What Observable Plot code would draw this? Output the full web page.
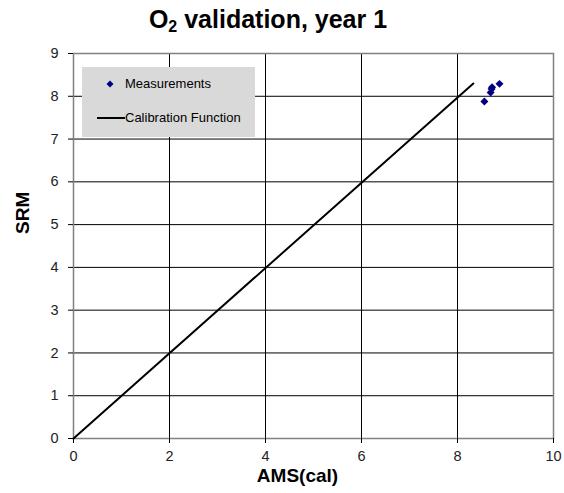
<!DOCTYPE html>
<html>
<head>
<meta charset="utf-8">
<script src="https://cdn.jsdelivr.net/npm/d3@7"></script>
<script src="https://cdn.jsdelivr.net/npm/@observablehq/plot@0.6"></script>
<style>
  body { margin: 0; background: #fff; font-family: Arial, "Liberation Sans", sans-serif; }
  #wrap { position: relative; width: 564px; height: 493px; }
  #title { position: absolute; left: 0; top: 0; width: 536px; text-align: center; font-weight: bold; font-size: 25px; line-height: 38px; height: 40px; color: #000; }
  #title sub { font-size: 16px; vertical-align: -4px; line-height: 0; }
  #chart { position: absolute; left: 0; top: 40px; }
  #legend { position: absolute; left: 82px; top: 67px; width: 173px; height: 70px; background: #d9d9d9; font-size: 13px; color: #000; }
  .li { position: absolute; left: 0; height: 16px; line-height: 16px; }
  .li span.t { position: absolute; left: 43px; white-space: nowrap; }
</style>
</head>
<body>
<div id="wrap">
  <div id="title">O<sub>2</sub> validation, year 1</div>
  <div id="chart"></div>
  <div id="legend">
    <div class="li" style="top:9px;width:173px;">
      <svg width="40" height="16" style="position:absolute;left:0;top:0">
        <path d="M28,4.5 L31.5,8 L28,11.5 L24.5,8 Z" fill="#000080"></path>
      </svg>
      <span class="t">Measurements</span>
    </div>
    <div class="li" style="top:43px;width:173px;">
      <svg width="44" height="16" style="position:absolute;left:0;top:0">
        <line x1="15" x2="43" y1="8" y2="8" stroke="#000" stroke-width="2"></line>
      </svg>
      <span class="t">Calibration Function</span>
    </div>
  </div>
</div>
<script>
// Data
const measX = [8.56, 8.69, 8.71, 8.72, 8.875];
const measY = [7.88, 8.09, 8.17, 8.21, 8.29];
const calX = [0, 8.33];
const calY = [0, 8.3];
const xTicks = [0, 2, 4, 6, 8, 10];
const yTicks = [0, 1, 2, 3, 4, 5, 6, 7, 8, 9];
const xGrid = [2, 4, 6, 8];
const yGrid = [1, 2, 3, 4, 5, 6, 7, 8];

const meas = measX.map((x, i) => ({x, y: measY[i]}));
const cal = calX.map((x, i) => ({x, y: calY[i]}));

const chart = Plot.plot({
  width: 564,
  height: 453,
  marginTop: 13,
  marginBottom: 55,
  marginLeft: 73,
  marginRight: 11,
  style: {fontFamily: "Arial, 'Liberation Sans', sans-serif", fontSize: "14px", color: "#000", background: "#fff"},
  x: {domain: [0, 10]},
  y: {domain: [0, 9]},
  marks: [
    Plot.ruleX(xGrid, {stroke: "#000", strokeWidth: 1}),
    Plot.ruleY(yGrid, {stroke: "#000", strokeWidth: 1}),
    Plot.frame({stroke: "#808080", strokeWidth: 1.5}),
    Plot.axisX({ticks: xTicks, tickSize: 5, tickPadding: 7, label: null, stroke: "#000", fill: "#222", fontSize: 14.5}),
    Plot.axisY({ticks: yTicks, tickSize: 5, tickPadding: 10, label: null, stroke: "#000", fill: "#222", fontSize: 14.5}),
    Plot.text(["AMS(cal)"], {frameAnchor: "bottom", dx: -16, dy: 43, fontWeight: "bold", fontSize: 19, fill: "#000"}),
    Plot.text(["SRM"], {frameAnchor: "left", dx: -51, dy: -12, rotate: -90, fontWeight: "bold", fontSize: 19, fill: "#000"}),
    Plot.line(cal, {x: "x", y: "y", stroke: "#000", strokeWidth: 2}),
    Plot.dot(meas, {x: "x", y: "y", symbol: "diamond2", r: 3.6, fill: "#000080", stroke: "none"})
  ]
});
document.getElementById("chart").appendChild(chart);
</script>
</body>
</html>
